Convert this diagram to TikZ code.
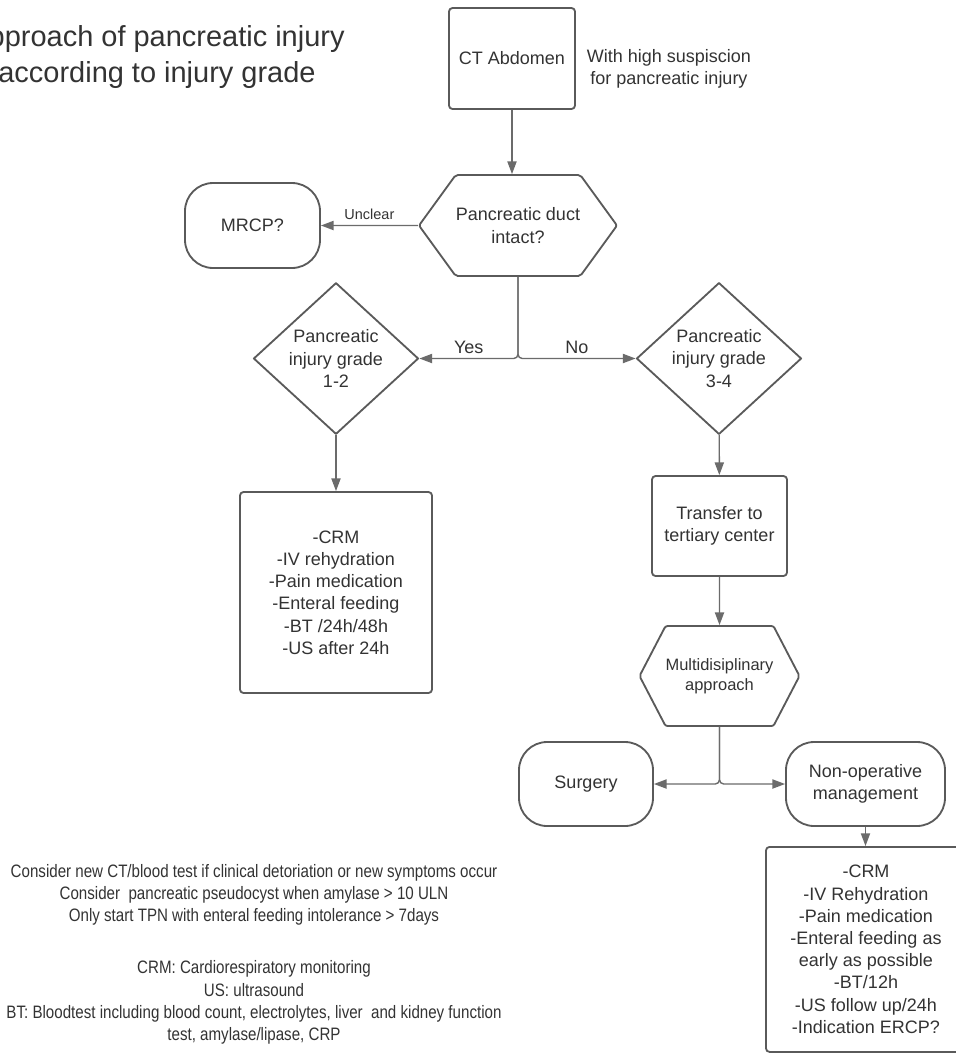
\documentclass[tikz,border=0pt]{standalone}
\usepackage{fontspec}
\setmainfont{Liberation Sans}
\newfontfamily\narrowfont[FakeStretch=0.84]{Liberation Sans}
\usetikzlibrary{arrows.meta,shapes.geometric,shapes.symbols}
\definecolor{edgegray}{HTML}{5A5A5A}
\definecolor{textgray}{HTML}{333333}
\begin{document}
\begin{tikzpicture}[x=0.025cm, y=-0.025cm, line join=round, >={Triangle[length=9pt,width=6.5pt]},
  every node/.style={text=textgray, font=\fontsize{12.8}{15.8}\selectfont, align=center, inner sep=0pt},
  box/.style={draw=edgegray, line width=1.3pt, rectangle, rounded corners=2.5pt},
  pill/.style={draw=edgegray, line width=1.3pt, rectangle, rounded corners=20pt},
  hexa/.style={draw=edgegray, line width=1.3pt, signal, signal to=east and west, rounded corners=1.5pt},
  decide/.style={draw=edgegray, line width=1.3pt, diamond},
  link/.style={draw=edgegray!90, line width=1pt, ->}]
\def\px{0.025cm}
%Page frame
\useasboundingbox[fill=white] (0,0) rectangle (956,1055);
%Title and start
\node[font=\fontsize{20.6}{24.9}\selectfont] (title) at (157,57) {Approach of pancreatic injury\\according to injury grade};
\node[box, minimum width=126*\px, minimum height=101*\px] (ct) at (512,58.5) {CT Abdomen};
\node (note) at (669,69) {With high suspiscion\\for pancreatic injury};
%Decisions
\node[hexa, minimum width=198*\px, minimum height=101*\px, signal pointer angle=108] (duct) at (518,225.5) {Pancreatic duct\\intact?};
\node[pill, minimum width=135*\px, minimum height=85*\px] (mrcp) at (252.5,225.5) {MRCP?};
\node[decide, minimum width=165*\px, minimum height=131*\px] (g12) at (336,358.5) {Pancreatic\\injury grade\\1-2};
\node[decide, minimum width=165*\px, minimum height=131*\px] (g34) at (719,358.5) {Pancreatic\\injury grade\\3-4};
%Grade 1-2
\node[box, minimum width=192*\px, minimum height=201*\px] (care12) at (336,592.5) {-CRM\\-IV rehydration\\-Pain medication\\-Enteral feeding\\-BT /24h/48h\\-US after 24h};
%Grade 3-4
\node[box, minimum width=135*\px, minimum height=100*\px] (transfer) at (719.5,526) {Transfer to\\tertiary center};
\node[hexa, minimum width=149*\px, minimum height=100*\px, signal pointer angle=125, font=\fontsize{11.7}{14.2}\selectfont] (multi) at (719.5,676) {Multidisiplinary\\approach};
\node[pill, minimum width=134*\px, minimum height=84*\px] (surgery) at (586,784) {Surgery};
\node[pill, minimum width=159*\px, minimum height=84*\px] (nonop) at (865.5,784) {Non-operative\\management};
\node[box, minimum width=200*\px, minimum height=205*\px, anchor=north] (care34) at (866,846) {-CRM\\-IV Rehydration\\-Pain medication\\-Enteral feeding as\\early as possible\\-BT/12h\\-US follow up/24h\\-Indication ERCP?};
%Remarks
\node[font=\narrowfont\fontsize{12.8}{15.8}\selectfont] (hints) at (254,895) {Consider new CT/blood test if clinical detoriation or new symptoms occur\\Consider\ \ pancreatic pseudocyst when amylase > 10 ULN\\Only start TPN with enteral feeding intolerance > 7days};
\node[font=\narrowfont\fontsize{12.8}{15.8}\selectfont] (abbrev) at (254,1002.5) {CRM: Cardiorespiratory monitoring\\US: ultrasound\\BT: Bloodtest including blood count, electrolytes, liver\ \ and kidney function\\test, amylase/lipase, CRP};
%Connectors
\draw[link] (ct) -- (ct |- duct.north);
\draw[link] (duct) -- node[above=4pt, font=\fontsize{10.3}{12}\selectfont] {Unclear} (mrcp);
\draw[link, rounded corners=3pt] (duct.south) |- node[above=3pt, pos=0.75] {Yes} (g12.east);
\draw[link, rounded corners=3pt] (duct.south) |- node[above=3pt, pos=0.75] {No} (g34.west);
\draw[link] (g12) -- (care12);
\draw[link] (g34) -- (transfer);
\draw[link] (transfer) -- (multi);
\draw[link, rounded corners=3pt] (multi.south) |- (surgery.east);
\draw[link, rounded corners=3pt] (multi.south) |- (nonop.west);
\draw[link] (nonop) -- (nonop |- care34.north);
\end{tikzpicture}
\end{document}
